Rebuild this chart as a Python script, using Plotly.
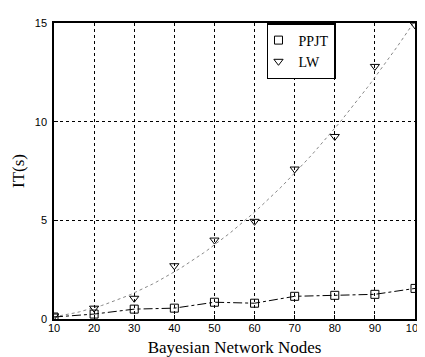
import numpy as np
import plotly.graph_objects as go

nodes = [10, 20, 30, 40, 50, 60, 70, 80, 90, 100]
ppjt = [0.1, 0.25, 0.5, 0.55, 0.85, 0.8, 1.15, 1.2, 1.25, 1.55]
lw = [0.15, 0.55, 1.05, 2.7, 4.0, 4.95, 7.6, 9.25, 12.8, 14.9]

# smooth trend curve for LW (least-squares quadratic fit of the data)
coef = np.polyfit(nodes, lw, 2)
xs = np.linspace(nodes[0], nodes[-1], 100)
lw_fit = np.polyval(coef, xs)

fig = go.Figure()
fig.add_trace(go.Scatter(x=xs, y=lw_fit, mode="lines", line=dict(color="#888888", width=1, dash="dot"), showlegend=False, hoverinfo="skip"))
fig.add_trace(go.Scatter(x=nodes, y=ppjt, mode="lines", line=dict(color="black", width=1, dash="dashdot"), showlegend=False))
fig.add_trace(go.Scatter(x=nodes, y=ppjt, mode="markers", name="PPJT",
                         marker=dict(symbol="square-open", size=8, color="black", line=dict(width=1))))
fig.add_trace(go.Scatter(x=nodes, y=lw, mode="markers", name="LW",
                         marker=dict(symbol="triangle-down-open", size=8, color="black", line=dict(width=1))))

axis_common = dict(showline=True, linecolor="black", linewidth=1.5, mirror=True,
                   showgrid=True, gridcolor="black", griddash="dot", gridwidth=1,
                   ticks="inside", ticklen=4, tickcolor="black", zeroline=False,
                   tickfont=dict(family="Liberation Sans", size=11, color="black"))
fig.update_xaxes(range=[10, 100], tickvals=nodes, **axis_common, ticklabelstandoff=-2,
                 title=dict(text="Bayesian Network Nodes", font=dict(family="Liberation Serif", size=17, color="black"), standoff=8))
fig.update_yaxes(range=[0, 15], tickvals=[0, 5, 10, 15], **axis_common, ticklabelstandoff=3,
                 title=dict(text="IT(s)", font=dict(family="Liberation Serif", size=17, color="black"), standoff=6))
fig.update_layout(width=425, height=357, margin=dict(l=44, r=9, t=15, b=46),
                  plot_bgcolor="white", paper_bgcolor="white",
                  legend=dict(x=0.59, y=1.0, xanchor="left", yanchor="top", bgcolor="white",
                              bordercolor="black", borderwidth=1.5,
                              font=dict(family="Liberation Serif", size=14, color="black"),
                              tracegroupgap=0, itemwidth=30, indentation=-10))
fig.write_html("out.html")
